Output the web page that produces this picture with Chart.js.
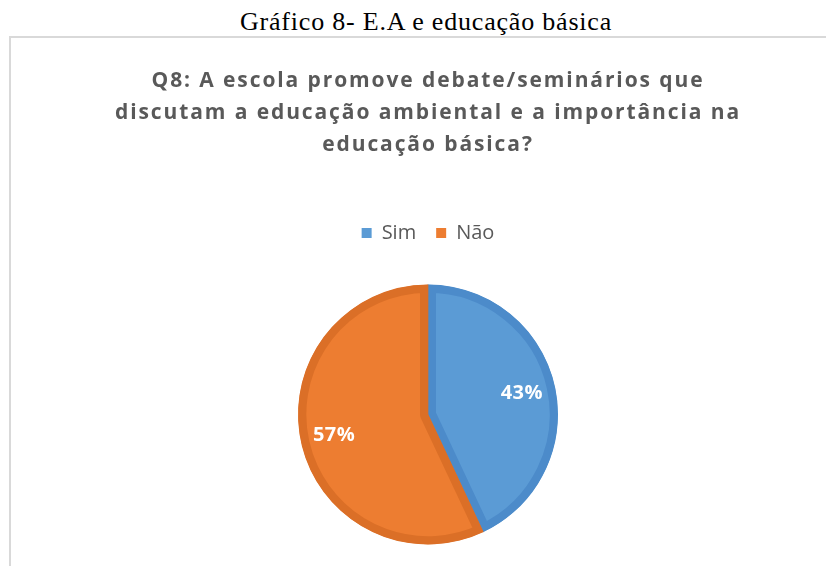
<!DOCTYPE html>
<html>
<head>
<meta charset="utf-8">
<script src="https://cdn.jsdelivr.net/npm/chart.js@4/dist/chart.umd.min.js"></script>
<style>
  html, body { margin: 0; padding: 0; background: #fff; overflow: hidden; }
  body { width: 826px; height: 566px; position: relative; }
  #caption {
    position: absolute; left: 0; top: 7px; width: 852px; text-align: center;
    font-family: "Liberation Serif", "Times New Roman", serif; font-size: 26px;
    letter-spacing: 0.8px; color: #000;
  }
  #frame {
    position: absolute; left: 9px; top: 36px; width: 840px; height: 600px;
    border: 2px solid #d9d9d9; background: #fff;
  }
  #wrap { position: absolute; left: 0; top: 0; width: 834px; height: 560px; }
</style>
</head>
<body>
<div id="caption">Gráfico 8- E.A e educação básica</div>
<div id="frame"><div id="wrap"><canvas id="chart"></canvas></div></div>
<script>
// chart data
let titleLines = [
  "Q8: A escola promove debate/seminários que",
  "discutam a educação ambiental e a importância na",
  "educação básica?"
];
let labels = ["Sim", "Não"];
let values = [43, 57];
let fillColors = ["#5B9BD5", "#ED7D31"];
let edgeColors = ["#4C8BCA", "#DB6F27"];

// wide letter spacing for the title only
let spacing = {
  id: "spacing",
  beforeDraw(chart) {
    chart.ctx.letterSpacing = "1.9px";
    let legend = chart.legend;
    if (legend && !legend._plainText) {
      let draw = legend.draw.bind(legend);
      legend.draw = function (area) {
        chart.ctx.letterSpacing = "0px";
        draw(area);
        chart.ctx.letterSpacing = "1.9px";
      };
      legend._plainText = true;
    }
  },
  beforeDatasetsDraw(chart) { chart.ctx.letterSpacing = "0px"; }
};

// percent labels inside the slices
let sliceLabels = {
  id: "sliceLabels",
  afterDatasetsDraw(chart) {
    let ctx = chart.ctx;
    let meta = chart.getDatasetMeta(0);
    let total = values.reduce((a, b) => a + b, 0);
    ctx.save();
    ctx.letterSpacing = "0.5px";
    ctx.font = "bold 20px 'Open Sans', sans-serif";
    ctx.fillStyle = "#ffffff";
    ctx.textAlign = "center";
    ctx.textBaseline = "middle";
    meta.data.forEach((arc, i) => {
      let mid = (arc.startAngle + arc.endAngle) / 2;
      let r = arc.outerRadius * 0.74;
      let x = arc.x + Math.cos(mid) * r;
      let y = arc.y + Math.sin(mid) * r;
      ctx.fillText(Math.round(values[i] / total * 100) + "%", x, y);
    });
    ctx.restore();
  }
};

let ctx = document.getElementById("chart").getContext("2d");

let chart = new Chart(ctx, {
  type: "pie",
  data: {
    labels: labels,
    datasets: [{
      data: values,
      backgroundColor: fillColors,
      borderColor: edgeColors,
      borderWidth: 8,
      borderAlign: "inner",
      radius: 130
    }]
  },
  options: {
    responsive: true,
    maintainAspectRatio: false,
    animation: false,
    layout: { padding: { top: 0, bottom: 22, left: 0, right: 0 } },
    plugins: {
      title: {
        display: true,
        text: titleLines,
        color: "#595959",
        font: { family: "'Open Sans', sans-serif", size: 21, weight: "bold", lineHeight: 32 / 21 },
        padding: { top: 27, bottom: 42 }
      },
      legend: {
        display: true,
        position: "top",
        labels: {
          color: "#595959",
          font: { family: "'Open Sans', sans-serif", size: 20 },
          boxWidth: 10,
          boxHeight: 10,
          padding: 20,
          generateLabels(chart) {
            return labels.map((name, i) => ({
              text: name,
              fillStyle: fillColors[i],
              strokeStyle: fillColors[i],
              lineWidth: 0,
              fontColor: "#595959",
              index: i
            }));
          }
        }
      },
      tooltip: { enabled: false }
    }
  },
  plugins: [spacing, sliceLabels]
});
</script>
</body>
</html>
